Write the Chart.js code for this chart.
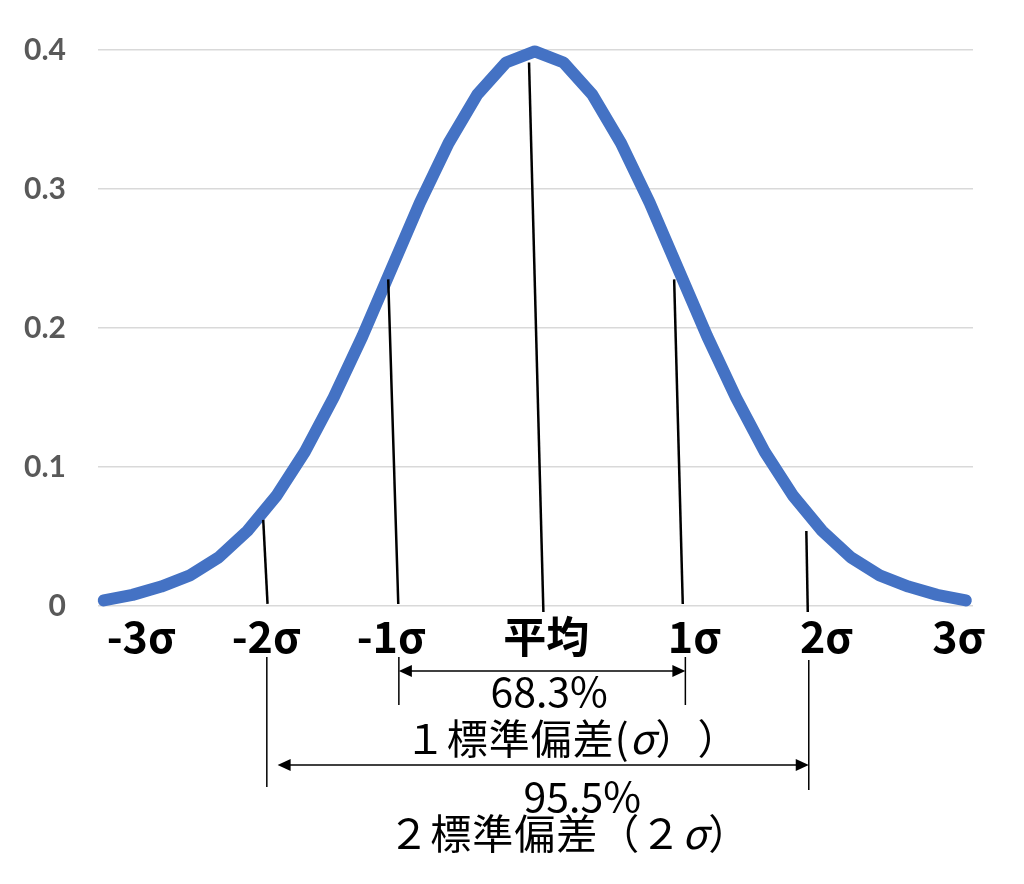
<!DOCTYPE html>
<html>
<head>
<meta charset="utf-8">
<script src="https://cdn.jsdelivr.net/npm/chart.js@4.4.1/dist/chart.umd.min.js"></script>
<style>
  html, body { margin: 0; padding: 0; background: #fff; }
  #wrap { width: 1024px; height: 884px; }
</style>
</head>
<body>
<div id="wrap"><canvas id="chart" width="1024" height="884"></canvas></div>
<script>
// x in σ units, y = density
const xValues = [-3, -2.8, -2.6, -2.4, -2.2, -2, -1.8, -1.6, -1.4, -1.2, -1, -0.8, -0.6, -0.4, -0.2, 0,
                 0.2, 0.4, 0.6, 0.8, 1, 1.2, 1.4, 1.6, 1.8, 2, 2.2, 2.4, 2.6, 2.8, 3];
const densities = [0.004, 0.008, 0.014, 0.022, 0.035, 0.054, 0.079, 0.111, 0.150, 0.194, 0.242, 0.290, 0.333, 0.368, 0.391, 0.399,
                   0.391, 0.368, 0.333, 0.290, 0.242, 0.194, 0.150, 0.111, 0.079, 0.054, 0.035, 0.022, 0.014, 0.008, 0.004];
const yTicks = [0, 0.1, 0.2, 0.3, 0.4];

// labels under the axis and where they sit (σ units)
const sigmaLabels = ["-3σ", "-2σ", "-1σ", "平均", "1σ", "2σ", "3σ"];
const sigmaLabelX = [-2.74, -1.87, -1.0, 0.08, 1.11, 2.03, 2.95];

// hand drawn guide lines from curve to axis: [xTop, yTop, xBottom, yBottom]
const guideLines = [
  [-1.89, 0.062, -1.86, 0.0015],
  [-1.02, 0.235, -0.95, 0.0015],
  [-0.04, 0.391, 0.06, -0.0043],
  [0.97, 0.235, 1.03, 0.0015],
  [1.89, 0.054, 1.90, -0.0043]
];

// range brackets below the axis (σ units)
const oneSigma = { left: -0.946, right: 1.048, pct: "68.3%" };
const twoSigma = { left: -1.865, right: 1.907, arrowLeft: -1.79, pct: "95.5%" };

const cjk = '"Noto Sans CJK JP", "Noto Sans", sans-serif';

function arrowHead(ctx, x, y, dir) {
  ctx.beginPath();
  ctx.moveTo(x, y);
  ctx.lineTo(x - dir * 13, y - 6);
  ctx.lineTo(x - dir * 13, y + 6);
  ctx.closePath();
  ctx.fill();
}

// draw text made of several runs (fonts), centred on cx
function drawRuns(ctx, runs, cx, cy, spacing) {
  ctx.letterSpacing = (spacing || 0) + "px";
  let total = 0;
  runs.forEach(r => { ctx.font = r[1]; total += ctx.measureText(r[0]).width; });
  let x = cx - total / 2;
  runs.forEach(r => {
    ctx.font = r[1];
    ctx.fillText(r[0], x, cy);
    x += ctx.measureText(r[0]).width;
  });
  ctx.letterSpacing = "0px";
}

const extras = {
  id: "extras",
  afterDatasetsDraw(chart) {
    const ctx = chart.ctx;
    const xs = chart.scales.x, ys = chart.scales.y;
    const px = v => xs.getPixelForValue(v);
    const py = v => ys.getPixelForValue(v);
    const base = chart.chartArea.bottom;

    ctx.save();
    ctx.strokeStyle = "#000";
    ctx.fillStyle = "#000";
    ctx.lineWidth = 2.5;
    guideLines.forEach(g => {
      ctx.beginPath();
      ctx.moveTo(px(g[0]), py(g[1]));
      ctx.lineTo(px(g[2]), py(g[3]));
      ctx.stroke();
    });

    // σ labels
    ctx.textAlign = "left";
    ctx.textBaseline = "middle";
    sigmaLabels.forEach((t, i) => {
      drawRuns(ctx, [[t, "bold 43px " + cjk]], px(sigmaLabelX[i]), base + 31);
    });

    // brackets
    ctx.lineWidth = 1.5;
    [[oneSigma.left, 51, 99], [oneSigma.right, 51, 99], [twoSigma.left, 51, 181], [twoSigma.right, 54, 184]].forEach(v => {
      ctx.beginPath();
      ctx.moveTo(px(v[0]), base + v[1]);
      ctx.lineTo(px(v[0]), base + v[2]);
      ctx.stroke();
    });
    ctx.lineWidth = 1.3;
    let y1 = base + 65;
    ctx.beginPath();
    ctx.moveTo(px(oneSigma.left) + 10, y1);
    ctx.lineTo(px(oneSigma.right) - 10, y1);
    ctx.stroke();
    arrowHead(ctx, px(oneSigma.left), y1, -1);
    arrowHead(ctx, px(oneSigma.right), y1, 1);

    let y2 = base + 159;
    ctx.beginPath();
    ctx.moveTo(px(twoSigma.arrowLeft) + 10, y2);
    ctx.lineTo(px(twoSigma.right) - 10, y2);
    ctx.stroke();
    arrowHead(ctx, px(twoSigma.arrowLeft), y2, -1);
    arrowHead(ctx, px(twoSigma.right), y2, 1);

    const num = "41px " + cjk;
    const reg = "41px " + cjk;
    const ital = "italic 41px " + cjk;
    drawRuns(ctx, [[oneSigma.pct, num]], px(0.1), base + 85);
    drawRuns(ctx, [["１標準偏差(", reg], ["σ", ital], ["）", reg], ["）", reg]], px(0.26), base + 132, 1);
    drawRuns(ctx, [[twoSigma.pct, num]], px(0.33), base + 190);
    drawRuns(ctx, [["２標準偏差（２", reg], ["σ", ital], ["）", reg]], px(0.24), base + 227, 1);
    ctx.restore();
  }
};

new Chart(document.getElementById("chart"), {
  type: "line",
  data: {
    datasets: [{
      data: xValues.map((x, i) => ({ x: x, y: densities[i] })),
      borderColor: "#4472C4",
      borderWidth: 12,
      borderCapStyle: "round",
      borderJoinStyle: "round",
      pointRadius: 0,
      tension: 0,
      clip: false
    }]
  },
  options: {
    responsive: false,
    animation: false,
    layout: { padding: { left: 0, top: 47, right: 51, bottom: 278 } },
    plugins: { legend: { display: false }, tooltip: { enabled: false } },
    scales: {
      x: { type: "linear", min: -3.04, max: 3.05, display: false },
      y: {
        min: 0, max: 0.4,
        afterFit: s => { s.width = 98; },
        afterBuildTicks: s => { s.ticks = yTicks.map(v => ({ value: v })); },
        border: { display: false },
        grid: { color: "#d9d9d9", lineWidth: 1.5, drawTicks: false },
        ticks: {
          padding: 32,
          color: "#595959",
          font: { family: "Lato", weight: "bold", size: 30 }
        }
      }
    }
  },
  plugins: [extras]
});
</script>
</body>
</html>
